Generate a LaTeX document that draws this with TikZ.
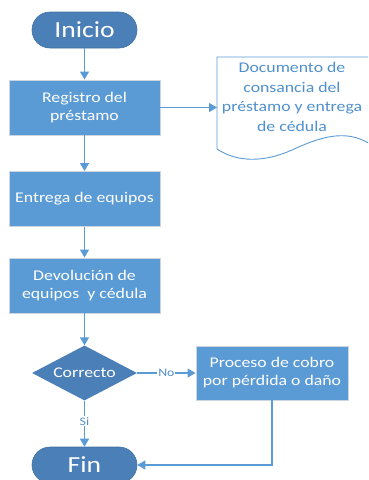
\documentclass[tikz,border=0pt]{standalone}
\usepackage{fontspec}
\setmainfont{Carlito}[FakeStretch=1.2]
\usetikzlibrary{shapes.geometric,arrows.meta}
\definecolor{boxblue}{RGB}{91,155,213}
\definecolor{darkblue}{RGB}{74,127,184}
\definecolor{edgegray}{RGB}{205,213,224}
\definecolor{lineblue}{RGB}{91,155,213}
\definecolor{textblue}{RGB}{80,145,205}
\tikzset{
  procbox/.style={rectangle, fill=boxblue, draw=edgegray, line width=0.9pt, text=white,
    minimum width=151pt, minimum height=55pt, inner sep=2pt, align=center,
    font=\fontsize{14.8}{18}\selectfont},
  termbox/.style={rectangle, rounded corners=18pt, fill=darkblue, draw={rgb,255:red,65;green,113;blue,156}, line width=0.6pt,
    text=white, minimum width=105pt, minimum height=36pt, inner sep=0pt,
    font=\fontsize{23}{26}\selectfont},
  decbox/.style={diamond, fill=darkblue, draw=none, text=white, aspect=1.91,
    minimum width=105pt, minimum height=55pt, inner sep=0pt,
    font=\fontsize{14.8}{18}\selectfont},
  conn/.style={draw=lineblue, line width=1.2pt, -{Triangle[length=8pt,width=9pt]}},
  lbl/.style={fill=white, text=textblue, inner sep=1pt, font=\fontsize{11.5}{12}\selectfont}
}
\begin{document}
\begin{tikzpicture}[x=1pt,y=-1pt]
\useasboundingbox (0,0) rectangle (368,480);
\clip (0,0) rectangle (368,480);
% document shape
\draw[draw=lineblue, line width=0.9pt, fill=white]
  (217,57) -- (370,57) -- (370,144)
  .. controls (345,128) and (318,138) .. (292,150)
  .. controls (265,162) and (238,163) .. (217,149) -- cycle;
\node[text=textblue, align=center, font=\fontsize{14.8}{19.5}\selectfont] (doc) at (292,97)
  {Documento de\\consancia del\\préstamo y entrega\\de cédula};
\coordinate (docin) at (217,107.5);

\node[termbox] (ini) at (84.5,30) {Inicio};
\node[procbox] (reg) at (84.5,107.5) {Registro del\\préstamo};
\node[procbox] (ent) at (84.5,199) {Entrega de equipos};
\node[procbox] (dev) at (84.5,285.5) {Devolución de\\equipos\ \ y cédula};
\node[decbox] (cor) at (84.5,373) {Correcto};
\node[procbox, minimum width=152pt, minimum height=54pt] (pro) at (272,373) {Proceso de cobro\\por pérdida o daño};
\node[termbox] (fin) at (84.5,465) {Fin};

\draw[conn] (ini) -- (reg);
\draw[conn] (reg.east) -- (docin);
\draw[conn] (reg) -- (ent);
\draw[conn] (ent) -- (dev);
\draw[conn] (dev) -- (cor);
\draw[conn] (cor) -- node[lbl, pos=0.5] {No} (pro);
\draw[conn] (cor) -- node[lbl, pos=0.45] {Si} (fin);
\draw[conn] (pro.south) |- (fin.east);
\end{tikzpicture}
\end{document}
